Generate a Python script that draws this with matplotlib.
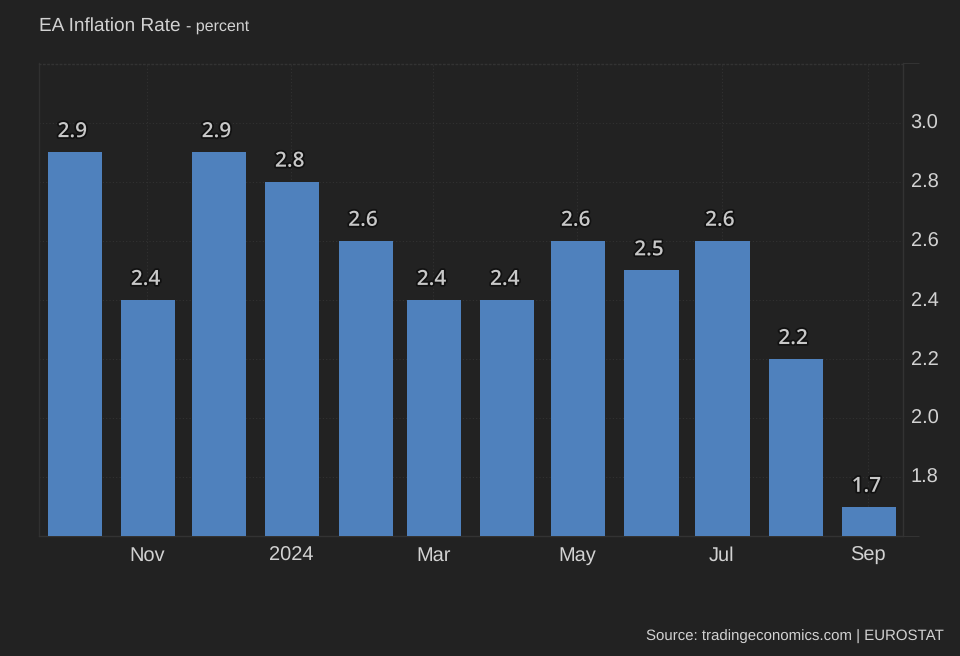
import matplotlib
matplotlib.use('Agg')
import matplotlib.pyplot as plt
import matplotlib.dates as mdates
import matplotlib.patheffects as pe
from matplotlib.transforms import ScaledTranslation
from datetime import datetime

months = ['2023-10', '2023-11', '2023-12', '2024-01', '2024-02', '2024-03',
          '2024-04', '2024-05', '2024-06', '2024-07', '2024-08', '2024-09']
values = [2.9, 2.4, 2.9, 2.8, 2.6, 2.4, 2.4, 2.6, 2.5, 2.6, 2.2, 1.7]
xtick_months = ['2023-11', '2024-01', '2024-03', '2024-05', '2024-07', '2024-09']
xtick_labels = ['Nov', '2024', 'Mar', 'May', 'Jul', 'Sep']
yticks = [1.8, 2.0, 2.2, 2.4, 2.6, 2.8, 3.0]

bg = '#222222'
bar_color = '#4f81bd'
text_color = '#d2d2d2'
line_color = '#333333'

plt.rcParams['font.family'] = ['Liberation Sans', 'DejaVu Sans']
plt.rcParams['text.hinting'] = 'no_hinting'
plt.rcParams['text.hinting_factor'] = 1


def to_num(month):
    return mdates.date2num(datetime.strptime(month, '%Y-%m'))


W, H = 960, 656
fig = plt.figure(figsize=(W / 100, H / 100), dpi=100, facecolor=bg)
ax = fig.add_axes([39 / W, 1 - 536.4 / H, (903 - 39) / W, (536.4 - 63.5) / H], facecolor=bg)

x = [to_num(m) for m in months]
# bars are 54px wide, about 23 days on this scale
bars = ax.bar(x, values, width=22.9, color=bar_color, zorder=3)

for xi, v in zip(x, values):
    ax.annotate('%.1f' % v, (xi, v), xytext=(-2.5, 10), textcoords='offset pixels',
                ha='center', va='bottom', fontsize=15, color='#c8c8c8',
                family='Open Sans', weight='semibold', zorder=4,
                path_effects=[pe.withStroke(linewidth=2.5, foreground='#111111')])

ax.set_xlim(x[0] - 15.2, x[-1] + 14.4)
ax.set_ylim(1.6, 3.2)

# the ticks sit a little left of the bar centres
ax.set_xticks([to_num(m) - 0.4 for m in xtick_months])
ax.set_xticklabels(xtick_labels, fontsize=14.5, color=text_color)
ax.tick_params(axis='x', length=0, pad=7)

ax.yaxis.tick_right()
ax.set_yticks(yticks)
ax.set_yticklabels(['%.1f' % t for t in yticks], fontsize=14.5, color=text_color)
ax.tick_params(axis='y', which='major', length=0, pad=5.5)
ax.set_yticks([1.6, 3.2], minor=True)
ax.tick_params(axis='y', which='minor', length=11.5, width=0.8, color=line_color)

up = ScaledTranslation(0, 1.5 / 100, fig.dpi_scale_trans)
for label in ax.get_yticklabels():
    label.set_transform(label.get_transform() + up)

ax.grid(True, color='#323232', linewidth=0.8, linestyle=(0, (1, 2)), zorder=0)
for name, spine in ax.spines.items():
    spine.set_color(line_color)
    spine.set_linewidth(1.0)
ax.spines['top'].set_linestyle((0, (1, 2)))
ax.spines['left'].set_color('#303030')

fig.text(39 / W, 1 - 31 / H, 'EA Inflation Rate', fontsize=13.8, color=text_color, ha='left', va='baseline')
fig.text(186 / W, 1 - 31 / H, '- percent', fontsize=11.3, color=text_color, ha='left', va='baseline')
fig.text(944 / W, 1 - 641 / H, 'Source: tradingeconomics.com | EUROSTAT', fontsize=11.1,
         color=text_color, ha='right', va='baseline')

fig.savefig('out.png', dpi=100, facecolor=bg)
